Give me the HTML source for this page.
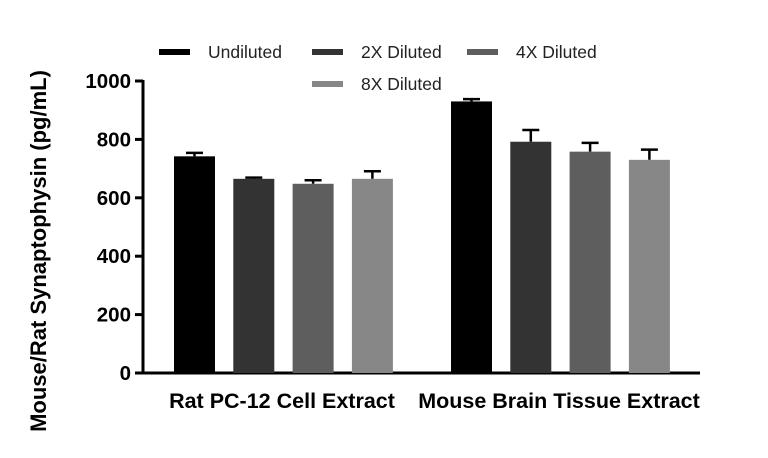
<!DOCTYPE html>
<html><head><meta charset="utf-8"><style>
body{margin:0;background:#fff;width:768px;height:453px;overflow:hidden}
text{font-family:"Liberation Sans",sans-serif}
</style></head><body>
<svg id="chart" width="768" height="453" viewBox="0 0 768 453">
<g id="axes"></g><g id="bars"></g><g id="legend"></g>
</svg>
<script>
const groups = ["Rat PC-12 Cell Extract", "Mouse Brain Tissue Extract"];
const seriesNames = ["Undiluted", "2X Diluted", "4X Diluted", "8X Diluted"];
const undiluted = [742, 930];
const diluted2x = [665, 792];
const diluted4x = [648, 758];
const diluted8x = [665, 730];
const errUndiluted = [12, 8];
const err2x = [4, 40];
const err4x = [12, 30];
const err8x = [26, 35];
const yTicks = [0, 200, 400, 600, 800, 1000];

const NS = "http://www.w3.org/2000/svg";
const colors = ["#000000", "#333333", "#5e5e5e", "#878787"];
const values = [undiluted, diluted2x, diluted4x, diluted8x];
const errs = [errUndiluted, err2x, err4x, err8x];
function y(v){ return 373 - v * 0.292; }
function x(g, s){ return 174 + g * 277 + s * 59.3; }
function mk(tag, attrs, parent){ const e = document.createElementNS(NS, tag); for (const k in attrs) e.setAttribute(k, attrs[k]); parent.appendChild(e); return e; }
const axes = document.getElementById("axes"), bars = document.getElementById("bars"), legend = document.getElementById("legend");

let yl = mk("line", {x1:143, y1:y(1000)-1, x2:143, y2:374.5, stroke:"#000", "stroke-width":3}, axes);


let xl = mk("line", {x1:141.5, y1:373, x2:700, y2:373, stroke:"#000", "stroke-width":3}, axes);


yTicks.forEach(t => {
  let tk = mk("line", {x1:135, y1:y(t), x2:143, y2:y(t), stroke:"#000", "stroke-width":3}, axes);
  
  
  let tl = mk("text", {x:131, y:y(t)+7, "text-anchor":"end", "font-size":20.5, "font-weight":"bold"}, axes);
  tl.textContent = t;
  
  
});
let yt = mk("text", {transform:"translate(46,251) rotate(-90)", "text-anchor":"middle", "font-size":22, "font-weight":"bold"}, axes);
yt.textContent = "Mouse/Rat Synaptophysin (pg/mL)";


groups.forEach((g, gi) => {
  let gl = mk("text", {x: gi === 0 ? 282 : 559, y:408, "text-anchor":"middle", "font-size":21.5, "font-weight":"bold"}, axes);
  gl.textContent = g;
  
  
  values.forEach((ser, si) => {
    const bx = x(gi, si), v = ser[gi], e = errs[si][gi];
    let ew = mk("line", {x1:bx+20.5, y1:y(v+e), x2:bx+20.5, y2:y(v), stroke:"#000", "stroke-width":2.5}, bars);
    
    
    let ec = mk("line", {x1:bx+12, y1:y(v+e), x2:bx+29, y2:y(v+e), stroke:"#000", "stroke-width":2.5}, bars);
    
    
    let r = mk("rect", {x:bx, y:y(v), width:41, height:373-y(v), fill:colors[si]}, bars);
    
    
  });
});
const lpos = [[159,52],[312,52],[467,52],[312,84]];
seriesNames.forEach((n, i) => {
  const [lx, ly] = lpos[i];
  let sw = mk("rect", {x:lx, y:ly-3, width:31, height:6, fill:colors[i]}, legend);
  
  
  let lt = mk("text", {x:lx+49, y:ly+6, "font-size":17.5, fill:"#222"}, legend);
  lt.textContent = n;
  
  
});
</script>
</body></html>
